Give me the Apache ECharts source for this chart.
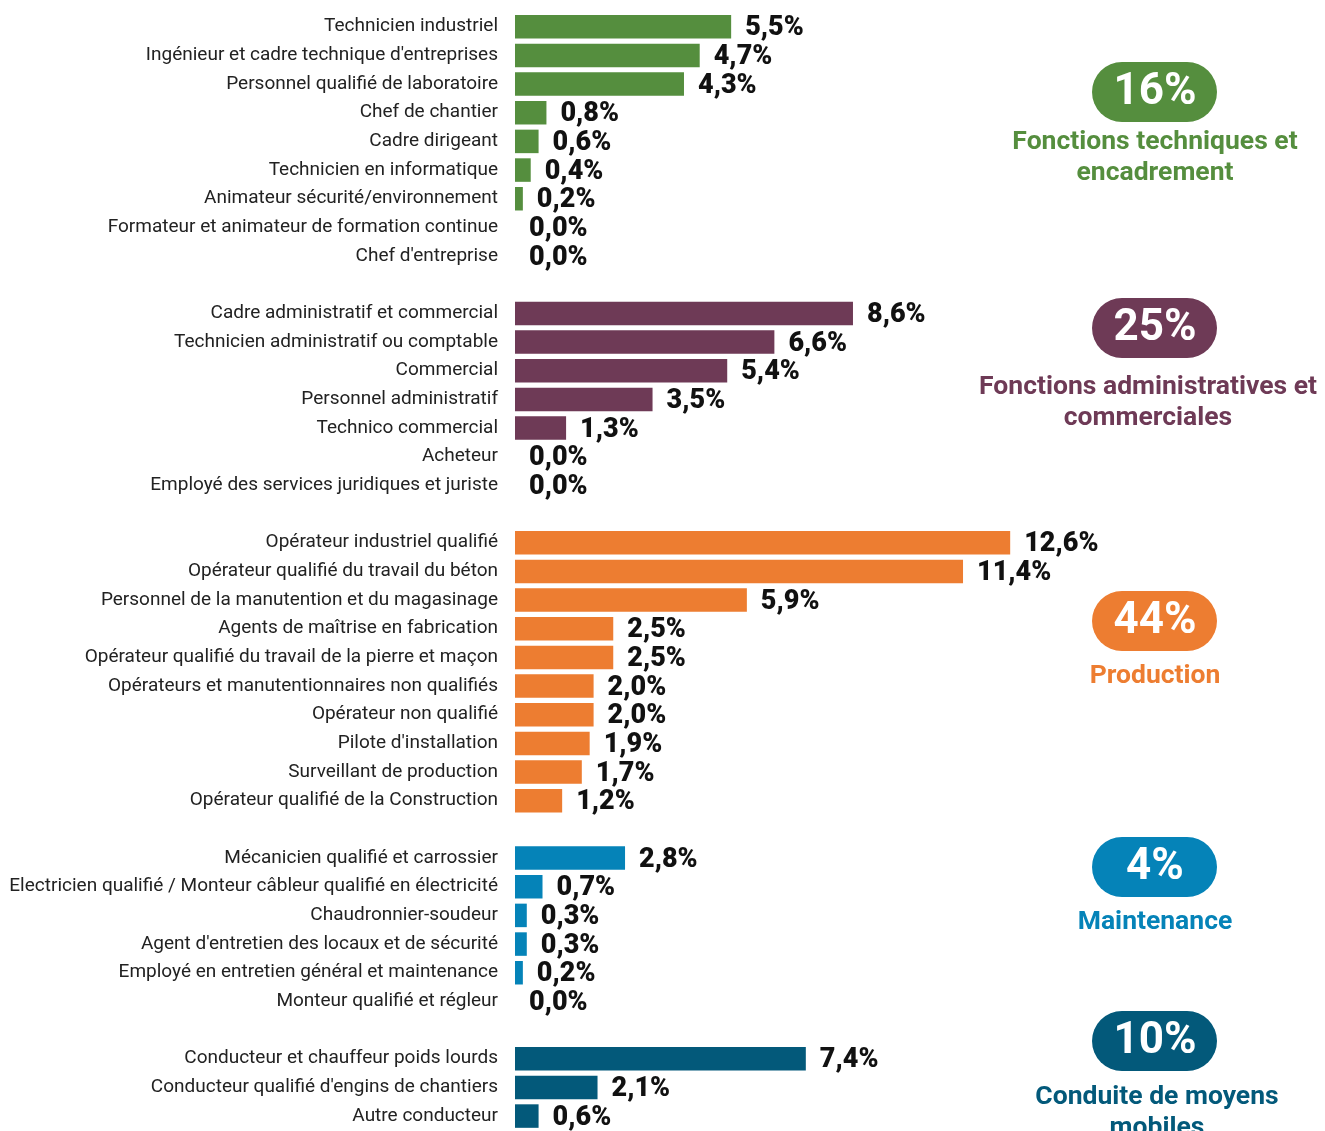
<!DOCTYPE html>
<html>
<head>
<meta charset="utf-8">
<script src="https://cdn.jsdelivr.net/npm/echarts@6/dist/echarts.min.js"></script>
<style>
  html, body { margin: 0; padding: 0; background: #fff; }
  #chart { width: 1325px; height: 1131px; }
</style>
</head>
<body>
<div id="chart"></div>
<script>
// groupes de métiers
var techLabels = ['Technicien industriel', 'Ingénieur et cadre technique d\'entreprises', 'Personnel qualifié de laboratoire', 'Chef de chantier', 'Cadre dirigeant', 'Technicien en informatique', 'Animateur sécurité/environnement', 'Formateur et animateur de formation continue', 'Chef d\'entreprise'];
var techValues = [5.5, 4.7, 4.3, 0.8, 0.6, 0.4, 0.2, 0.0, 0.0];

var adminLabels = ['Cadre administratif et commercial', 'Technicien administratif ou comptable', 'Commercial', 'Personnel administratif', 'Technico commercial', 'Acheteur', 'Employé des services juridiques et juriste'];
var adminValues = [8.6, 6.6, 5.4, 3.5, 1.3, 0.0, 0.0];

var prodLabels = ['Opérateur industriel qualifié', 'Opérateur qualifié du travail du béton', 'Personnel de la manutention et du magasinage', 'Agents de maîtrise en fabrication', 'Opérateur qualifié du travail de la pierre et maçon', 'Opérateurs et manutentionnaires non qualifiés', 'Opérateur non qualifié', 'Pilote d\'installation', 'Surveillant de production', 'Opérateur qualifié de la Construction'];
var prodValues = [12.6, 11.4, 5.9, 2.5, 2.5, 2.0, 2.0, 1.9, 1.7, 1.2];

var maintLabels = ['Mécanicien qualifié et carrossier', 'Electricien qualifié / Monteur câbleur qualifié en électricité', 'Chaudronnier-soudeur', 'Agent d\'entretien des locaux et de sécurité', 'Employé en entretien général et maintenance', 'Monteur qualifié et régleur'];
var maintValues = [2.8, 0.7, 0.3, 0.3, 0.2, 0.0];

var condLabels = ['Conducteur et chauffeur poids lourds', 'Conducteur qualifié d\'engins de chantiers', 'Autre conducteur'];
var condValues = [7.4, 2.1, 0.6];

var groupTotals = ['16%', '25%', '44%', '4%', '10%'];
var groupNames = ['Fonctions techniques et\nencadrement', 'Fonctions administratives et\ncommerciales', 'Production', 'Maintenance', 'Conduite de moyens\nmobiles'];
var groupColors = ['#558e3e', '#6e3a56', '#ed7d31', '#0583b8', '#03597a'];

var groups = [
  [techLabels, techValues],
  [adminLabels, adminValues],
  [prodLabels, prodValues],
  [maintLabels, maintValues],
  [condLabels, condValues]
];

var categories = [];
var barData = [];
groups.forEach(function (g, gi) {
  if (gi > 0) {
    categories.push(new Array(gi + 1).join(' '));
    barData.push('-');
  }
  g[0].forEach(function (name, i) {
    categories.push(name);
    barData.push({ value: g[1][i], itemStyle: { color: groupColors[gi] } });
  });
});

// badges à droite
var badgeY = [92, 328, 621, 867, 1041];
var captionY = [127, 372, 661, 907, 1082];
var captionX = [1155, 1148, 1155, 1155, 1157];
var graphics = [];
groupTotals.forEach(function (t, i) {
  graphics.push({
    type: 'rect',
    shape: { x: 1092, y: badgeY[i] - 30, width: 125, height: 60, r: 30 },
    style: { fill: groupColors[i] }
  });
  graphics.push({
    type: 'text',
    x: 1155, y: badgeY[i] + 1,
    style: { text: t, fill: '#fff', font: 'bold 44px Roboto', textAlign: 'center', textVerticalAlign: 'middle' }
  });
  graphics.push({
    type: 'text',
    x: captionX[i], y: captionY[i],
    style: { text: groupNames[i], fill: groupColors[i], font: 'bold 26.5px Roboto', textAlign: 'center', textVerticalAlign: 'top', lineHeight: 31 }
  });
});

var myChart = echarts.init(document.getElementById('chart'));
option = {
  animation: false,
  grid: { left: 515, top: 12.4, width: 786, height: 1118 },
  xAxis: {
    type: 'value', min: 0, max: 20, show: false
  },
  yAxis: {
    type: 'category',
    inverse: true,
    data: categories,
    axisLine: { show: false },
    axisTick: { show: false },
    axisLabel: { color: '#222', fontFamily: 'Roboto', fontSize: 19, margin: 17 }
  },
  series: [{
    type: 'bar',
    data: barData,
    barCategoryGap: '18%',
    label: {
      show: true,
      position: 'right',
      distance: 14,
      offset: [0, 2],
      color: '#111',
      fontFamily: 'Roboto',
      fontWeight: 900,
      fontSize: 27,
      formatter: function (p) {
        return p.value.toFixed(1).replace('.', ',') + '%';
      }
    }
  }],
  graphic: graphics
};
myChart.setOption(option);
window.addEventListener('resize', function () {
  myChart.resize();
});
</script>
</body>
</html>
